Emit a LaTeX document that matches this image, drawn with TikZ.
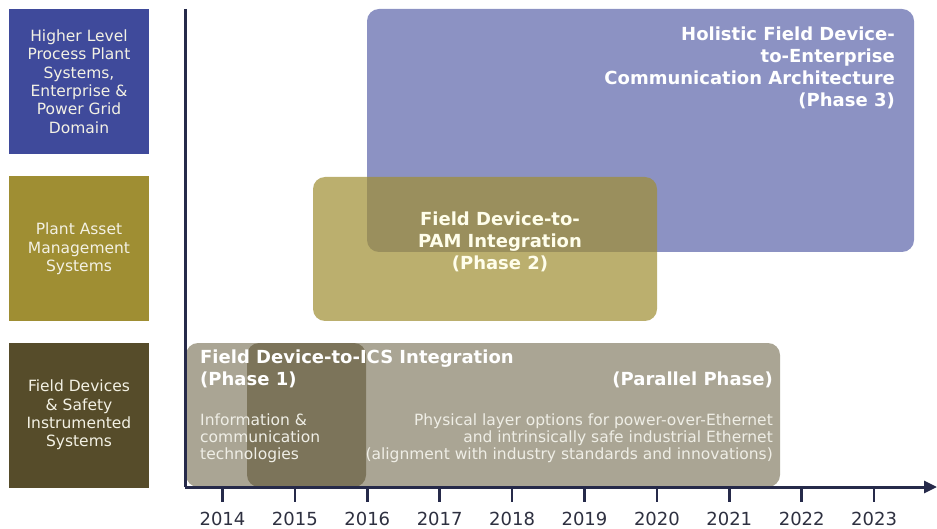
\documentclass[tikz,border=0pt]{standalone}
\usepackage{fontspec}
\setmainfont{DejaVu Sans}
\usetikzlibrary{arrows.meta}
\definecolor{domblue}{HTML}{3F4A9B}
\definecolor{domolive}{HTML}{9F8E33}
\definecolor{dombrown}{HTML}{564C2A}
\definecolor{axisnavy}{HTML}{262A4A}
\definecolor{labelcream}{HTML}{F3F1E4}
\definecolor{notegray}{HTML}{EFEEE6}
\definecolor{yeargray}{HTML}{2E3040}
\begin{document}
\begin{tikzpicture}[x=1pt,y=-1pt,
  domainbox/.style={minimum width=140pt,minimum height=145pt,inner sep=0pt,
    text=labelcream,font=\fontsize{15.5}{18.3}\selectfont,align=center},
  phasebox/.style={rounded corners=12pt},
  phasetitle/.style={text=white,font=\fontsize{18}{22}\bfseries\selectfont,inner sep=0pt},
  note/.style={text=notegray,font=\fontsize{15.5}{17.2}\selectfont,inner sep=0pt},
  axisline/.style={draw=axisnavy,line width=3pt},
  yeartick/.style={draw=axisnavy,line width=2.5pt},
  yearlabel/.style={text=yeargray,font=\fontsize{18}{20}\selectfont,inner sep=0pt}]
\useasboundingbox (0,0) rectangle (937,529);

% domain labels on the left
\node[domainbox,fill=domblue]  (dhigh)  at (79,81.5)
  {Higher Level\\Process Plant\\Systems,\\Enterprise \&\\Power Grid\\Domain};
\node[domainbox,fill=domolive] (dpam)   at (79,249) {Plant Asset\\Management\\Systems};
\node[domainbox,fill=dombrown] (dfield) at (79,415)
  {Field Devices\\\& Safety\\Instrumented\\Systems};

% phase bands
\fill[phasebox,domblue,opacity=0.6]   (367,9)   rectangle (914,252);
\fill[phasebox,domolive,opacity=0.71] (313,177) rectangle (657,321);
\fill[phasebox,dombrown,opacity=0.5]  (186,343) rectangle (780,487);
\fill[phasebox,dombrown,opacity=0.55] (247,343) rectangle (366,487);

% phase texts
\node[phasetitle,anchor=east,align=right] (p3) at (895,68)
  {Holistic Field Device-\\to-Enterprise\\Communication Architecture\\(Phase 3)};
\node[phasetitle,align=center,text=white!92!yellow] (p2) at (500,242)
  {Field Device-to-\\PAM Integration\\(Phase 2)};
\node[phasetitle,anchor=west,align=left] (p1) at (200,369)
  {Field Device-to-ICS Integration\\(Phase 1)};
\node[phasetitle,anchor=east] (pp) at (773,380) {(Parallel Phase)};
\node[note,anchor=west,align=left] (n1) at (200,438)
  {Information \&\\communication\\technologies};
\node[note,anchor=east,align=right] (n2) at (773,438)
  {Physical layer options for power-over-Ethernet\\
   and intrinsically safe industrial Ethernet\hspace*{0.3em}\\
   (alignment with industry standards and innovations)};

% time axis
\coordinate (otop) at (185,9);
\coordinate (orig) at (185,487);
\coordinate (tend) at (937,487);
\draw[axisline] (otop) -- (orig);
\draw[axisline,-{Triangle[length=13pt,width=12pt]}] (orig) -- (tend);

\foreach \yr [count=\i from 0] in {2014,...,2023}{
  \coordinate (t\yr) at (222.5+72.4*\i,487);
  \coordinate (b\yr) at (222.5+72.4*\i,502);
  \draw[yeartick] (t\yr) -- (b\yr);
  \node[yearlabel] (y\yr) at (222.5+72.4*\i,519) {\yr};
}
\end{tikzpicture}
\end{document}
